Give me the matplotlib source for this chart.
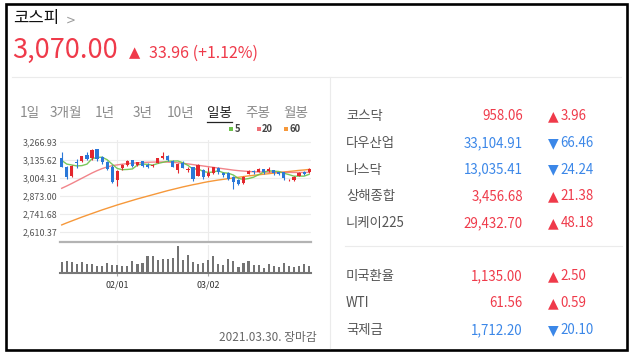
import matplotlib
matplotlib.use('Agg')
import matplotlib.pyplot as plt
from matplotlib.lines import Line2D
from matplotlib.patches import Rectangle

plt.rcParams['font.family'] = ['Noto Sans CJK KR', 'DejaVu Sans']

W, H = 630, 355

# --- chart data (KOSPI daily, 2021-01-15 .. 2021-03-30) ---
dates = ['01/15', '01/18', '01/19', '01/20', '01/21', '01/22', '01/25', '01/26', '01/27', '01/28',
         '01/29', '02/01', '02/02', '02/03', '02/04', '02/05', '02/08', '02/09', '02/10', '02/15',
         '02/16', '02/17', '02/18', '02/19', '02/22', '02/23', '02/24', '02/25', '02/26', '03/02',
         '03/03', '03/04', '03/05', '03/08', '03/09', '03/10', '03/11', '03/12', '03/15', '03/16',
         '03/17', '03/18', '03/19', '03/22', '03/23', '03/24', '03/25', '03/26', '03/29', '03/30']
opens = [3152, 3085, 3018, 3121, 3124, 3170, 3148, 3213, 3158, 3122,
         3086, 2990, 3075, 3099, 3134, 3098, 3125, 3100, 3090, 3115,
         3150, 3165, 3130, 3060, 3115, 3065, 3085, 3020, 3065, 3020,
         3040, 3075, 3040, 3040, 3010, 2990, 2965, 3035, 3055, 3050,
         3070, 3055, 3060, 3045, 3045, 2993, 2990, 3020, 3045, 3045]
highs = [3189, 3090, 3096, 3140, 3163, 3194, 3213, 3215, 3160, 3124,
         3098, 3062, 3105, 3132, 3136, 3122, 3128, 3111, 3105, 3150,
         3189, 3170, 3131, 3110, 3125, 3085, 3087, 3102, 3068, 3085,
         3085, 3080, 3048, 3045, 3015, 2995, 3015, 3060, 3062, 3075,
         3072, 3085, 3062, 3050, 3050, 3000, 3015, 3045, 3055, 3075]
lows = [3085, 2998, 3010, 3078, 3118, 3135, 3138, 3130, 3106, 3060,
        2964, 2945, 3060, 3092, 3080, 3090, 3085, 3075, 3080, 3110,
        3140, 3125, 3080, 3040, 3075, 3050, 2985, 3015, 3000, 3010,
        3030, 3035, 3010, 2990, 2925, 2950, 2960, 3030, 3035, 3045,
        3035, 3050, 3025, 3025, 2990, 2980, 2985, 3015, 3025, 3040]
closes = [3085.90, 3013.93, 3092.66, 3114.55, 3160.84, 3140.63, 3208.99, 3140.31, 3122.56, 3069.05,
          2976.21, 3056.53, 3096.81, 3129.68, 3087.55, 3120.63, 3091.24, 3084.67, 3100.58, 3147.00,
          3163.25, 3133.73, 3086.66, 3107.62, 3079.75, 3070.09, 2994.98, 3099.69, 3012.95, 3043.49,
          3082.99, 3043.87, 3026.26, 2996.11, 2976.12, 2958.12, 3013.70, 3054.39, 3045.71, 3067.17,
          3047.50, 3066.01, 3039.53, 3035.46, 3004.74, 2996.35, 3008.33, 3041.01, 3036.04, 3070.00]
ma5 = [3131.7, 3104.8, 3098.1, 3091.4, 3093.6, 3104.5, 3143.5, 3153.1, 3154.7, 3136.3,
       3103.4, 3072.9, 3064.2, 3065.7, 3069.4, 3098.2, 3105.2, 3102.8, 3096.9, 3108.8,
       3117.3, 3125.8, 3126.2, 3127.7, 3114.2, 3095.6, 3067.8, 3070.4, 3051.5, 3044.2,
       3046.8, 3056.6, 3041.9, 3038.5, 3025.1, 3000.1, 2994.1, 2999.7, 3009.6, 3027.8,
       3045.7, 3056.2, 3053.2, 3051.1, 3038.6, 3028.4, 3016.9, 3017.2, 3017.3, 3030.3]
ma20 = [2929, 2946, 2964, 2983, 3002, 3021, 3040, 3057, 3072, 3084,
        3093, 3099, 3104, 3108, 3111, 3114, 3116, 3118, 3119, 3120,
        3120, 3119, 3117, 3114, 3110, 3106, 3101, 3096, 3091, 3086,
        3081, 3076, 3071, 3066, 3061, 3057, 3054, 3051, 3049, 3048,
        3047, 3046, 3046, 3045, 3045, 3044, 3044, 3044, 3044, 3045]
ma60 = [2663, 2678, 2692, 2706, 2720, 2733, 2746, 2759, 2772, 2784,
        2796, 2808, 2819, 2830, 2841, 2852, 2862, 2872, 2882, 2892,
        2902, 2912, 2921, 2930, 2939, 2947, 2955, 2962, 2970, 2977,
        2983, 2989, 2994, 2999, 3004, 3009, 3014, 3019, 3023, 3027,
        3031, 3035, 3039, 3043, 3047, 3051, 3055, 3059, 3062, 3066]
volume = [1070, 1130, 1070, 830, 1070, 830, 830, 630, 630, 930,
          730, 730, 630, 630, 1130, 830, 930, 1630, 1630, 1230,
          1400, 1400, 1470, 2630, 1300, 1770, 1070, 870, 970, 1270,
          1670, 870, 770, 1370, 1170, 570, 970, 1170, 770, 770,
          470, 870, 670, 570, 970, 670, 570, 670, 870, 670]
price_ticks = [2610.37, 2741.68, 2873.00, 3004.31, 3135.62, 3266.93]
date_labels = ['02/01', '03/02']
periods = ['1일', '3개월', '1년', '3년', '10년', '일봉', '주봉', '월봉']
period_x = [20, 50, 95, 133, 167, 207, 245, 283]
ma_labels = ['5', '20', '60']

# --- side panel data ---
world_names = ['코스닥', '다우산업', '나스닥', '상해종합', '니케이225']
world_values = [958.06, 33104.91, 13035.41, 3456.68, 29432.70]
world_changes = [3.96, -66.46, -24.24, 21.38, 48.18]
misc_names = ['미국환율', 'WTI', '국제금']
misc_values = [1135.00, 61.56, 1712.20]
misc_changes = [2.50, 0.59, -20.10]

RED = '#ef3a4a'
BLUE = '#3b87e8'
C_UP = '#e3272d'
C_DN = '#2a78d8'
MA_COLORS = ['#6cc24a', '#ef6f76', '#f6983a']


def fx(x):
    return x / W


def fy(y):
    return 1 - y / H


fig = plt.figure(figsize=(W / 100, H / 100), dpi=100)
fig.patch.set_facecolor('white')

# frame + separators
fig.add_artist(Rectangle((fx(5.5), fy(349.5)), fx(626.5) - fx(5.5), fy(3.5) - fy(349.5),
                         transform=fig.transFigure, fill=False, edgecolor='black', lw=1.9))
fig.add_artist(Line2D([fx(12), fx(621)], [fy(77), fy(77)], color='#ebebeb', lw=0.8))
fig.add_artist(Line2D([fx(329.5), fx(329.5)], [fy(77), fy(348)], color='#ebebeb', lw=0.8))
fig.add_artist(Line2D([fx(345), fx(622)], [fy(246), fy(246)], color='#ebebeb', lw=0.8))

# header
fig.text(fx(13), fy(19), '코스피', fontsize=12, color='#111111', va='center', fontweight='medium')
fig.text(fx(66), fy(20), '>', fontsize=8.5, color='#999999', va='center', family='DejaVu Sans')
last_close = closes[-1]
chg = closes[-1] - closes[-2]
fig.text(fx(12), fy(50), f'{last_close:,.2f}', fontsize=19.5, color=RED, va='center')
fig.text(fx(128.5), fy(52.5), '▲', fontsize=10.5, color=RED, va='center', family='DejaVu Sans')
fig.text(fx(149), fy(53.5), f'{chg:.2f} (+{chg / closes[-2] * 100:.2f}%)', fontsize=11.5,
         color=RED, va='center')

# period tabs
for lab, x in zip(periods, period_x):
    sel = lab == '일봉'
    fig.text(fx(x), fy(113), lab, fontsize=9.8, va='center',
             color='#222222' if sel else '#8a8a8a')
fig.add_artist(Line2D([fx(206.5), fx(232)], [fy(121.5), fy(121.5)], color='#222222', lw=0.9))

# ma legend
for lab, col, x in zip(ma_labels, MA_COLORS, [229, 256.5, 284]):
    fig.add_artist(Rectangle((fx(x), fy(131.5)), 4.2 / W, 4.2 / H, transform=fig.transFigure,
                             color=col, lw=0))
    fig.text(fx(x + 5.5), fy(129.5), lab, fontsize=6.8, fontweight='bold', color='#444444',
             va='center')

# price axes
n = len(closes)
xs = list(range(n))
x0, x1 = -0.34, 49.37
ax = fig.add_axes((fx(60), fy(242), (311 - 60) / W, (242 - 140.5) / H))
ax.set_xlim(x0, x1)
ax.set_ylim(2539, 3276)
for t in price_ticks:
    ax.axhline(t, color='#ececec', lw=0.8, zorder=0)
for d in date_labels:
    ax.axvline(dates.index(d), color='#ececec', lw=0.8, zorder=0)

ax.plot(xs, ma60, color=MA_COLORS[2], lw=1.0, zorder=2)
ax.plot(xs, ma20, color=MA_COLORS[1], lw=1.0, alpha=0.85, zorder=2)
ax.plot(xs, ma5, color=MA_COLORS[0], lw=1.0, alpha=0.9, zorder=2)

for i in xs:
    o, h, l, c = opens[i], highs[i], lows[i], closes[i]
    col = C_UP if c >= o else C_DN
    ax.vlines(i, l, h, color=col, lw=0.8, zorder=3)
    ax.bar(i, max(abs(c - o), 5), bottom=min(o, c), width=0.62, color=col, lw=0, zorder=4)

ax.set_yticks(price_ticks)
ax.set_yticklabels([f'{t:,.2f}' for t in price_ticks], fontsize=6.4, color='#555555')
ax.tick_params(axis='y', length=0, pad=1.8)
ax.set_xticks([])
for s in ['top', 'right', 'left']:
    ax.spines[s].set_visible(False)
ax.spines['bottom'].set_color('#b3b3b3')
ax.spines['bottom'].set_linewidth(1.6)

# volume axes
vax = fig.add_axes((fx(60), fy(272.5), (311 - 60) / W, (272.5 - 245) / H))
vax.set_xlim(x0, x1)
vax.set_ylim(0, max(volume) * 27.5 / 26.3)
for d in date_labels:
    vax.axvline(dates.index(d), color='#ececec', lw=0.8, zorder=0)
vax.bar(xs, volume, width=0.42, color='#737373', lw=0, zorder=2)
vax.set_yticks([])
vax.set_xticks([dates.index(d) for d in date_labels])
vax.set_xticklabels(date_labels, fontsize=6.4, color='#333333')
vax.tick_params(axis='x', length=2.5, width=0.8, color='#aaaaaa', pad=3)
for s in ['top', 'right', 'left']:
    vax.spines[s].set_visible(False)
vax.spines['bottom'].set_color('#777777')
vax.spines['bottom'].set_linewidth(1.5)

fig.text(fx(316.5), fy(337.5), '2021.03.30. 장마감', fontsize=8.5, color='#666666',
         ha='right', va='center')


# side panel
def side_row(y, name, value, change):
    col = RED if change > 0 else BLUE
    fig.text(fx(346), fy(y), name, fontsize=9.6, color='#555555', va='center')
    fig.text(fx(523), fy(y), f'{value:,.2f}', fontsize=9.6, color=col, va='center', ha='right')
    fig.text(fx(548), fy(y), '▲' if change > 0 else '▼', fontsize=10, color=col, va='center',
             family='DejaVu Sans')
    fig.text(fx(560.5), fy(y), f'{abs(change):.2f}', fontsize=9.6, color=col, va='center')


for k, (nm, v, c) in enumerate(zip(world_names, world_values, world_changes)):
    side_row(116 + k * 26.8, nm, v, c)
for k, (nm, v, c) in enumerate(zip(misc_names, misc_values, misc_changes)):
    side_row(276 + k * 27, nm, v, c)

fig.savefig('out.png', dpi=100, facecolor='white')
